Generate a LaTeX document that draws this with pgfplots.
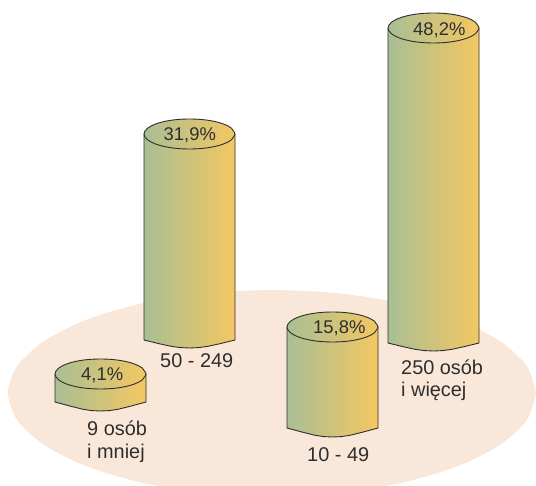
\documentclass[border=0pt]{standalone}
\usepackage{fontspec}
\setmainfont{Liberation Sans}
\usepackage{pgfplots}
\pgfplotsset{compat=1.18}
\definecolor{disc}{HTML}{F9E8DA}
\definecolor{gleft}{HTML}{A9BF94}
\definecolor{gmid}{HTML}{CBC486}
\definecolor{gright}{HTML}{F4C762}
\definecolor{ink}{HTML}{2E2E2E}
\pgfplotsset{
  cyl/.style={draw=ink, line width=0.9pt, line join=round, no markers, left color=gleft, middle color=gmid, right color=gright},
  cap/.style={cyl, smooth, tension=0.6},
}
\newcommand{\lab}[3]{\node[anchor=base west, inner sep=0pt, text=ink, font=\fontsize{#3}{#3}\selectfont] at (axis cs:#1) {#2};}
\begin{document}
\begin{tikzpicture}
% page must stay the full 536x486, the hidden axis gives no box of its own
\useasboundingbox (0,0) rectangle (536pt,486pt);
\begin{axis}[
  at={(0,0)}, anchor=south west,
  hide axis, scale only axis, width=536pt, height=486pt,
  xmin=0, xmax=536, ymin=0, ymax=486, y dir=reverse,
  clip=true,
]
% floor disc
\addplot[fill=disc, draw=none, smooth, no markers] coordinates {
  (536,393)(527,419.7)(500.6,444.5)(458.7,465.8)(404,482.2)(340.3,492.5)(272,496)
  (203.7,492.5)(140,482.2)(85.3,465.8)(43.4,444.5)(17,419.7)(8,393)
  (17,366.3)(43.4,341.5)(85.3,320.2)(140,303.8)(203.7,293.5)(272,290)
  (340.3,293.5)(404,303.8)(458.7,320.2)(500.6,341.5)(527,366.3)(536,393)
} --cycle;

% 9 osob i mniej, 4,1%
\addplot[cyl] coordinates {
  (55,374)(55,402)(70.5,406.2)(82.5,409.2)(91.5,410.6)(100.5,411)(109.5,410.6)(118.5,409.2)(130.5,406.2)(146,402)(146,374)
} --cycle;
\addplot[cap] coordinates {
  (146,374)(142.5,379.7)(132.7,384.6)(117.9,387.9)(100.5,389)(83.1,387.9)(68.3,384.6)(58.5,379.7)(55,374)
  (58.5,368.3)(68.3,363.4)(83.1,360.1)(100.5,359)(117.9,360.1)(132.7,363.4)(142.5,368.3)(146,374)
};

% 50 - 249, 31,9%
\addplot[cyl] coordinates {
  (144,134)(144,340)(159.5,343.8)(171.5,346.4)(180.5,347.6)(189.5,348)(198.5,347.6)(207.5,346.4)(219.5,343.8)(235,340)(235,134)
} --cycle;
\addplot[cap] coordinates {
  (235,134)(231.5,139.7)(221.7,144.6)(206.9,147.9)(189.5,149)(172.1,147.9)(157.3,144.6)(147.5,139.7)(144,134)
  (147.5,128.3)(157.3,123.4)(172.1,120.1)(189.5,119)(206.9,120.1)(221.7,123.4)(231.5,128.3)(235,134)
};

% 10 - 49, 15,8%
\addplot[cyl] coordinates {
  (287,327)(287,428)(302.5,432.2)(314.5,435.2)(323.5,436.6)(332.5,437)(341.5,436.6)(350.5,435.2)(362.5,432.2)(378,428)(378,327)
} --cycle;
\addplot[cap] coordinates {
  (378,327)(374.5,332.7)(364.7,337.6)(349.9,340.9)(332.5,342)(315.1,340.9)(300.3,337.6)(290.5,332.7)(287,327)
  (290.5,321.3)(300.3,316.4)(315.1,313.1)(332.5,312)(349.9,313.1)(364.7,316.4)(374.5,321.3)(378,327)
};

% 250 osob i wiecej, 48,2%
\addplot[cyl] coordinates {
  (388,28)(388,343)(403.5,346.8)(415.5,349.4)(424.5,350.6)(433.5,351)(442.5,350.6)(451.5,349.4)(463.5,346.8)(479,343)(479,28)
} --cycle;
\addplot[cap] coordinates {
  (479,28)(475.5,33.7)(465.7,38.6)(450.9,41.9)(433.5,43)(416.1,41.9)(401.3,38.6)(391.5,33.7)(388,28)
  (391.5,22.3)(401.3,17.4)(416.1,14.1)(433.5,13)(450.9,14.1)(465.7,17.4)(475.5,22.3)(479,28)
};

\lab{81,381}{4,1\%}{18.4}
\lab{163.5,141}{31,9\%}{18.4}
\lab{313,334}{15,8\%}{18.4}
\lab{413,36}{48,2\%}{18.4}
\lab{160,368}{50 - 249}{19.9}
\lab{87,436}{9 osób}{19.9}
\lab{87,459}{i mniej}{19.9}
\lab{307,461}{10 - 49}{19.9}
\lab{401,375}{250 osób}{19.9}
\lab{401,397}{i więcej}{19.9}
\end{axis}
\end{tikzpicture}
\end{document}
